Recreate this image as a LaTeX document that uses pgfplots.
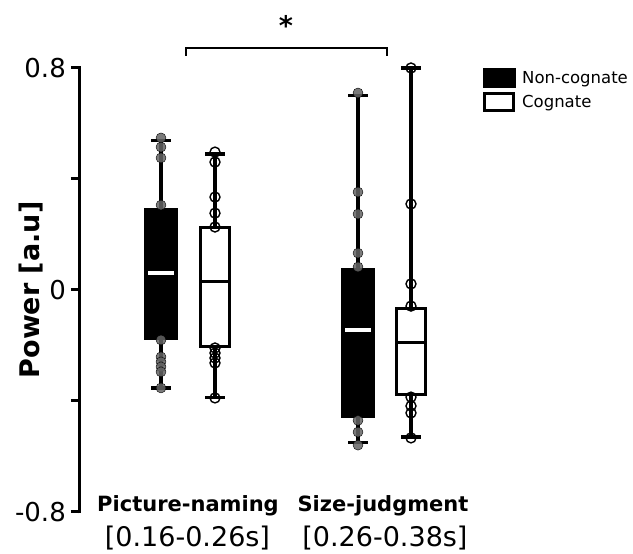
\documentclass[border=0pt]{standalone}
\usepackage{fontspec}
\setmainfont{DejaVu Sans}
\usepackage{pgfplots}
\pgfplotsset{compat=1.18}
\definecolor{dotgray}{RGB}{100,100,100}
\begin{document}
\begin{tikzpicture}
\useasboundingbox (0,0) rectangle (633pt,554pt);
\begin{axis}[
  at={(78pt,42pt)}, anchor=south west,
  scale only axis, width=555pt, height=444pt,
  xmin=78, xmax=633, ymin=-0.8, ymax=0.8,
  axis line style={draw=none},
  ytick pos=left,
  xtick=\empty,
  ytick={-0.8,-0.4,0,0.4,0.8},
  yticklabels={-0.8,,0,,0.8},
  tick align=outside,
  major tick length=7pt,
  tick style={line width=3pt, black},
  yticklabel style={font=\fontsize{26}{31}\selectfont, inner sep=5pt},
  clip=false,
  legend style={at={(0.7297,1)}, anchor=north west, draw=none, fill=none,
    font=\fontsize{16.5}{20}\selectfont, inner sep=0pt, row sep=4pt,
    nodes={inner sep=1pt}, /tikz/column 1/.style={column sep=5pt}},
  legend cell align=left,
]
% dots (behind boxes)
\addplot[forget plot, only marks, mark=*, mark size=5pt, mark options={draw=none, fill=dotgray, fill opacity=0.85}]
  coordinates {(161,0.548) (161,0.515) (161,0.476) (161,0.306) (161,-0.18) (161,-0.241) (161,-0.259) (161,-0.277) (161,-0.295) (161,-0.353)};
\addplot[forget plot, only marks, mark=o, mark size=5pt, mark options={draw=black, line width=1.4pt}]
  coordinates {(215,0.497) (215,0.461) (215,0.335) (215,0.277) (215,0.227) (215,-0.209) (215,-0.227) (215,-0.245) (215,-0.263) (215,-0.389)};
\addplot[forget plot, only marks, mark=*, mark size=5pt, mark options={draw=none, fill=dotgray, fill opacity=0.85}]
  coordinates {(358,0.71) (358,0.353) (358,0.274) (358,0.133) (358,0.083) (358,-0.47) (358,-0.512) (358,-0.559)};
\addplot[forget plot, only marks, mark=o, mark size=5pt, mark options={draw=black, line width=1.4pt}]
  coordinates {(411,0.80) (411,0.31) (411,0.022) (411,-0.058) (411,-0.386) (411,-0.418) (411,-0.443) (411,-0.533)};
% whiskers
\addplot[forget plot, black, line width=3.2pt] coordinates {(161,-0.353) (161,0.54)};
\addplot[forget plot, black, line width=3.2pt] coordinates {(151,0.54) (171,0.54)};
\addplot[forget plot, black, line width=3.2pt] coordinates {(151,-0.353) (171,-0.353)};
\addplot[forget plot, black, line width=3.2pt] coordinates {(215,-0.386) (215,0.49)};
\addplot[forget plot, black, line width=3.2pt] coordinates {(205,0.49) (225,0.49)};
\addplot[forget plot, black, line width=3.2pt] coordinates {(205,-0.386) (225,-0.386)};
\addplot[forget plot, black, line width=3.2pt] coordinates {(358,-0.551) (358,0.70)};
\addplot[forget plot, black, line width=3.2pt] coordinates {(348,0.70) (368,0.70)};
\addplot[forget plot, black, line width=3.2pt] coordinates {(348,-0.551) (368,-0.551)};
\addplot[forget plot, black, line width=3.2pt] coordinates {(411,-0.53) (411,0.80)};
\addplot[forget plot, black, line width=3.2pt] coordinates {(401,0.80) (421,0.80)};
\addplot[forget plot, black, line width=3.2pt] coordinates {(401,-0.53) (421,-0.53)};
% boxes
\addplot[forget plot, draw=black, fill=black, line width=1pt] coordinates {(144.5,-0.18) (177.5,-0.18) (177.5,0.295) (144.5,0.295)} -- cycle;
\addplot[forget plot, draw=black, fill=white, line width=3pt] coordinates {(200.5,-0.205) (229.5,-0.205) (229.5,0.227) (200.5,0.227)} -- cycle;
\addplot[forget plot, draw=black, fill=black, line width=1pt] coordinates {(341.5,-0.458) (374.5,-0.458) (374.5,0.076) (341.5,0.076)} -- cycle;
\addplot[forget plot, draw=black, fill=white, line width=3pt] coordinates {(396.5,-0.375) (425.5,-0.375) (425.5,-0.065) (396.5,-0.065)} -- cycle;
% medians
\addplot[forget plot, white, line width=3.5pt] coordinates {(148,0.061) (174,0.061)};
\addplot[forget plot, black, line width=3pt] coordinates {(200.5,0.029) (229.5,0.029)};
\addplot[forget plot, white, line width=3.5pt] coordinates {(345,-0.144) (371,-0.144)};
\addplot[forget plot, black, line width=3pt] coordinates {(396.5,-0.191) (425.5,-0.191)};
% legend
\addlegendimage{legend image code/.code={\draw[draw=black, fill=black, line width=1pt] (0pt,-9.5pt) rectangle (32pt,9.5pt);}}
\addlegendentry{Non-cognate}
\addlegendimage{legend image code/.code={\draw[draw=black, fill=white, line width=3pt] (1pt,-8.5pt) rectangle (30pt,8.5pt);}}
\addlegendentry{Cognate}
\end{axis}
% y axis line, drawn on top in plain TikZ
\draw[black, line width=3pt] (79pt,40.5pt) -- (79pt,487.5pt);
% annotations
\node[rotate=90, font=\fontsize{27}{32}\selectfont\bfseries] at (31pt,264pt) {Power [a.u]};
\node[anchor=base, font=\fontsize{21}{25}\selectfont\bfseries] at (188pt,42pt) {Picture-naming};
\node[anchor=base, font=\fontsize{27}{32}\selectfont] at (187.5pt,7pt) {[0.16-0.26s]};
\node[anchor=base, font=\fontsize{21}{25}\selectfont\bfseries] at (383pt,42pt) {Size-judgment};
\node[anchor=base, font=\fontsize{27}{32}\selectfont] at (385pt,7pt) {[0.26-0.38s]};
\draw[line width=1.6pt] (186pt,498pt) -- (186pt,506pt) -- (387pt,506pt) -- (387pt,498pt);
\node[anchor=base, font=\fontsize{27}{30}\selectfont\bfseries, inner sep=0pt] at (286pt,518pt) {*};
\end{tikzpicture}
\end{document}
